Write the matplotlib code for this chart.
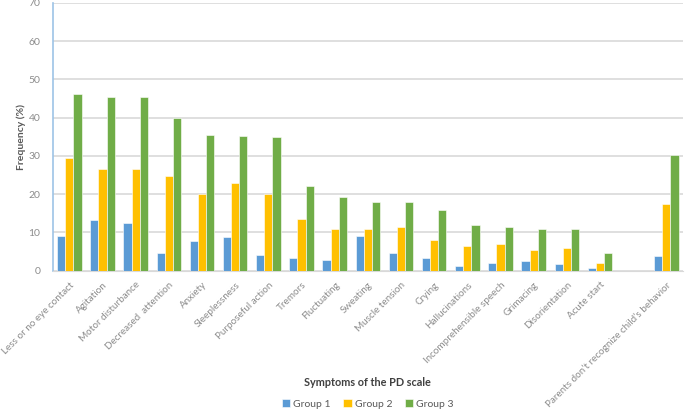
import matplotlib.pyplot as plt
import numpy as np

symptoms = ["Less or no eye contact", "Agitation", "Motor disturbance",
            "Decreased  attention", "Anxiety", "Sleeplessness",
            "Purposeful action", "Tremors", "Fluctuating", "Sweating",
            "Muscle tension", "Crying", "Hallucinations",
            "Incomprehensible speech", "Grimacing", "Disorientation",
            "Acute start", "", "Parents don\u2019t recognize child\u2019s behavior"]

group1 = [8.9, 13.2, 12.4, 4.7, 7.7, 8.7, 4.0, 3.4, 2.7, 9.0, 4.6, 3.4,
          1.2, 1.9, 2.4, 1.7, 0.7, 0, 3.7]
group2 = [29.3, 26.6, 26.6, 24.7, 20.1, 22.8, 20.0, 13.6, 10.8, 10.8, 11.4,
          8.1, 6.5, 6.9, 5.3, 5.9, 1.9, 0, 17.3]
group3 = [46.1, 45.3, 45.3, 40.0, 35.4, 35.3, 34.8, 22.2, 19.2, 17.9, 17.9,
          15.8, 12.0, 11.4, 10.8, 10.8, 4.6, 0, 30.2]

colors = ["#5B9BD5", "#FFC000", "#70AD47"]
labels = ["Group 1", "Group 2", "Group 3"]

plt.rcParams["font.family"] = ["Lato", "DejaVu Sans"]

fig = plt.figure(figsize=(6.85, 4.13), dpi=100)
ax = fig.add_axes([0.077, 0.345, 0.92, 0.648])

x = np.arange(len(symptoms))
w = 0.245
for i, vals in enumerate([group1, group2, group3]):
    ax.bar(x + (i - 1) * w, vals, w, color=colors[i], label=labels[i],
           edgecolor="white", linewidth=0.4, zorder=3)

ax.set_xlim(-0.5, len(symptoms) - 0.5)
ax.set_ylim(0, 70)
ax.set_yticks(range(0, 71, 10))
ax.yaxis.grid(True, color="#d9d9d9", linewidth=1.2, zorder=0)
ax.tick_params(axis="y", length=0, labelsize=7.5, labelcolor="#8c8c8c", pad=9)
ax.tick_params(axis="x", length=0, labelsize=7.1, labelcolor="#8c8c8c", pad=7)
ax.set_xticks(x)
ax.set_xticklabels(symptoms, rotation=45, ha="right", rotation_mode="anchor")

for s in ["top", "right"]:
    ax.spines[s].set_visible(False)
ax.spines["left"].set_color("#9dc3e6")
ax.spines["left"].set_linewidth(1.2)
ax.spines["bottom"].set_color("#d9d9d9")

ax.set_ylabel("Frequency (%)", fontsize=7.5, fontweight="bold", color="#595959",
              labelpad=2)
fig.text(0.537, 0.065, "Symptoms of the PD scale", ha="center", fontsize=7.8,
         fontweight="bold", color="#404040")
fig.legend(loc="lower center", bbox_to_anchor=(0.537, -0.012), ncol=3,
           frameon=False, fontsize=7.5, handlelength=0.8, handleheight=0.8,
           handletextpad=0.3, columnspacing=1.2, labelcolor="#595959")

fig.savefig("out.png", dpi=100)
